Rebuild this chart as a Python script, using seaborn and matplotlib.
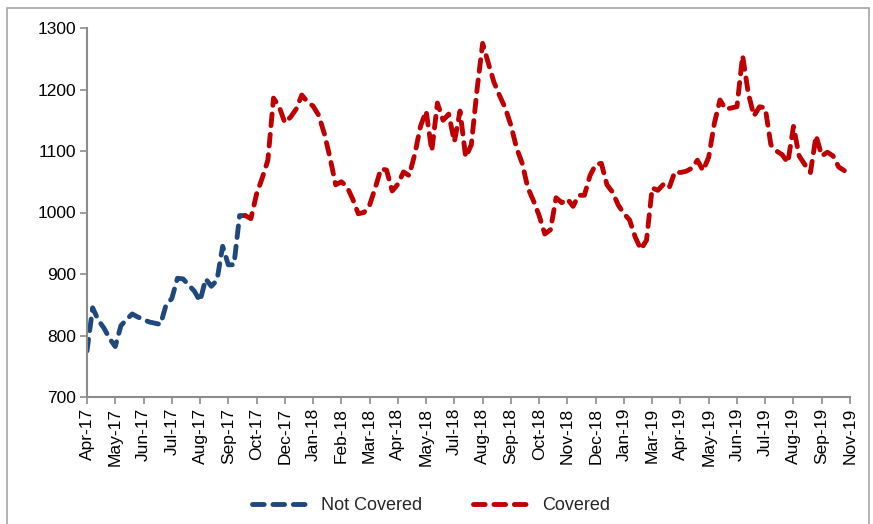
import matplotlib
matplotlib.use("Agg")
import matplotlib.pyplot as plt
from matplotlib.patches import Rectangle
from matplotlib.lines import Line2D
import numpy as np
import pandas as pd
import seaborn as sns

# Month labels shown every 5 weekly observations
tick_labels = ["Apr-17", "May-17", "Jun-17", "Jul-17", "Aug-17", "Sep-17", "Oct-17",
               "Dec-17", "Jan-18", "Feb-18", "Mar-18", "Apr-18", "May-18", "Jul-18",
               "Aug-18", "Sep-18", "Oct-18", "Nov-18", "Dec-18", "Jan-19", "Mar-19",
               "Apr-19", "May-19", "Jun-19", "Jul-19", "Aug-19", "Sep-19", "Nov-19"]

# Weekly price, period before coverage (weeks 0-28)
not_covered = [775, 845, 825, 812, 795, 782, 816, 826, 835, 830,
               826, 822, 820, 818, 850, 860, 893, 892, 882, 872,
               856, 892, 880, 890, 945, 915, 915, 995, 995]

# Weekly price, covered period (weeks 28-134)
covered = [995, 990, 1030, 1056, 1085, 1186, 1172, 1146, 1155, 1168,
           1191, 1180, 1173, 1158, 1128, 1089, 1045, 1050, 1042, 1022,
           998, 1000, 1012, 1040, 1071, 1069, 1035, 1046, 1066, 1060,
           1095, 1140, 1165, 1100, 1178, 1150, 1160, 1115, 1165, 1090,
           1110, 1199, 1275, 1243, 1212, 1190, 1170, 1142, 1105, 1080,
           1040, 1019, 995, 965, 972, 1024, 1016, 1022, 1010, 1028,
           1028, 1060, 1078, 1080, 1045, 1033, 1012, 998, 988, 960,
           940, 955, 1040, 1036, 1046, 1040, 1066, 1065, 1067, 1072,
           1085, 1068, 1090, 1145, 1183, 1168, 1170, 1172, 1255, 1194,
           1157, 1172, 1170, 1110, 1100, 1094, 1081, 1140, 1092, 1078,
           1065, 1125, 1092, 1098, 1092, 1074, 1068]

series_names = ["Not Covered", "Covered"]
series_colors = ["#1F497D", "#C00000"]

start_covered = len(not_covered) - 1
df = pd.concat([
    pd.DataFrame({"week": np.arange(len(not_covered)), "price": not_covered,
                  "series": series_names[0]}),
    pd.DataFrame({"week": np.arange(start_covered, start_covered + len(covered)),
                  "price": covered, "series": series_names[1]}),
], ignore_index=True)

sns.set_theme(style="white")
plt.rcParams["font.family"] = ["Liberation Sans Narrow", "Liberation Sans", "DejaVu Sans"]

fig = plt.figure(figsize=(8.73, 5.24), dpi=100)
ax = fig.add_axes([87 / 873, 1 - 397 / 524, (850 - 87) / 873, (397 - 28) / 524])

lw = 3.5
dash = (2.4, 1.8)
sns.lineplot(data=df, x="week", y="price", hue="series", style="series",
             palette=dict(zip(series_names, series_colors)),
             dashes={n: dash for n in series_names},
             linewidth=lw, ax=ax, legend=False, sort=False)
for ln in ax.lines:
    ln.set_dash_capstyle("round")
    ln.set_solid_capstyle("round")
    ln.set_solid_joinstyle("round")
    ln.set_dash_joinstyle("round")

ax.set_xlim(0, 135)
ax.set_ylim(700, 1300)
ax.set_yticks(np.arange(700, 1301, 100))
ax.set_xticks(np.arange(0, 136, 5))
ax.set_xticklabels(tick_labels, rotation=90)
ax.set_xlabel("")
ax.set_ylabel("")

axis_gray = "#8C8C8C"
for side in ["top", "right"]:
    ax.spines[side].set_visible(False)
for side in ["left", "bottom"]:
    ax.spines[side].set_color(axis_gray)
    ax.spines[side].set_linewidth(1.5)
ax.tick_params(axis="both", which="major", direction="out", length=5, width=1.2,
               color=axis_gray, labelsize=12.5, labelcolor="black", pad=3)
ax.tick_params(axis="y", left=True)
ax.tick_params(axis="x", bottom=True)

# Legend below the plot
handles = [Line2D([0], [0], color=c, lw=lw, dashes=dash, dash_capstyle="round")
           for c in series_colors]
fig.legend(handles, series_names, loc="center", bbox_to_anchor=(431 / 873, 1 - 506 / 524),
           ncol=2, frameon=False, fontsize=13, handlelength=3.4, columnspacing=2.8,
           handletextpad=0.45)

# Chart frame
fig.patches.append(Rectangle((7 / 873, -0.05), (869 - 7) / 873, 1.05 - 8 / 524,
                             transform=fig.transFigure, fill=False,
                             edgecolor="#A6A6A6", linewidth=1.2))

fig.savefig("out.png", dpi=100)
